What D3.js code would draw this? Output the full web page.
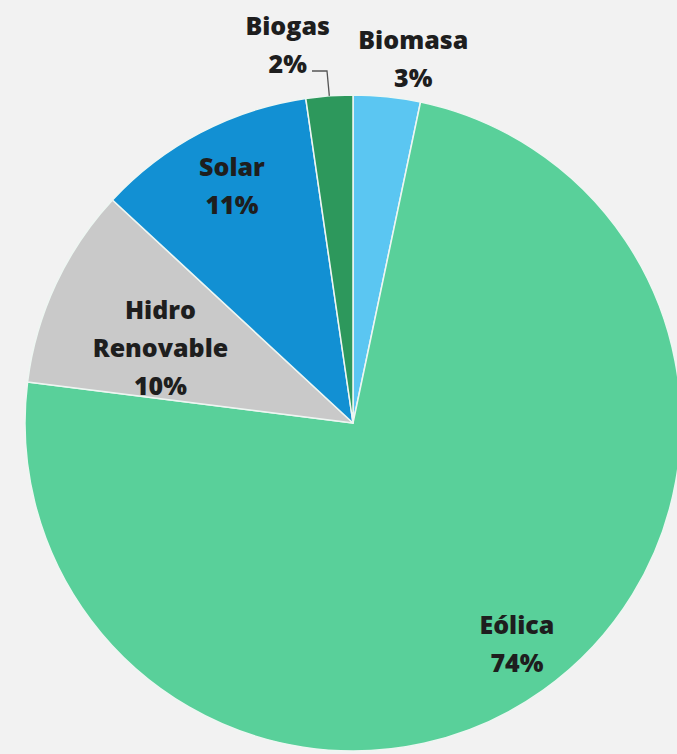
<!DOCTYPE html>
<html>
<head>
<meta charset="utf-8">
<script src="https://cdn.jsdelivr.net/npm/d3@7"></script>
<style>
	html, body { margin: 0; padding: 0; background: #f2f2f2; overflow: hidden; }
	svg { display: block; }
</style>
</head>
<body>
<script>
// shares of renewable generation (%), in pie order starting at 12 o'clock
const categories = ["Biomasa", "Eólica", "Hidro Renovable", "Solar", "Biogas"];
const shares = [3.3, 73.7, 9.9, 10.8, 2.3];
const shareLabels = ["3%", "74%", "10%", "11%", "2%"];

const colors = ["#5bc6f2", "#59d09a", "#c9c9c9", "#1290d3", "#2d985c"];

// label lines per slice (name split as in the chart)
const labelLines = [["Biomasa"], ["Eólica"], ["Hidro", "Renovable"], ["Solar"], ["Biogas"]];

// where each label sits: angle in degrees from 12 o'clock, radius as fraction of r
const labelPlace = [
	{angle: 9.4, f: 1.125},
	{angle: 143.5, f: 0.84},
	{angle: 291.3, f: 0.63},
	{angle: 332.9, f: 0.81},
	{angle: 350.2, f: 1.17}
];

let width = 677;
let height = 754;
let cx = 353, cy = 423, radius = 328;
let lineGap = 38;

let svg = d3.select("body").append("svg")
	.attr("width", width)
	.attr("height", height);

svg.append("rect")
	.attr("width", width)
	.attr("height", height)
	.attr("fill", "#f2f2f2");

let pie = d3.pie().sort(null).value(d => d);
let arcs = pie(shares);

let arc = d3.arc()
	.innerRadius(0)
	.outerRadius(radius);

let g = svg.append("g")
	.attr("transform", `translate(${cx},${cy})`);

g.selectAll("path")
	.data(arcs)
	.join("path")
	.attr("d", arc)
	.attr("fill", (d, i) => colors[i])
	.attr("stroke", "#eef6f2")
	.attr("stroke-width", 1.5)
	.attr("stroke-linejoin", "round");

// leader line for the Biogas label
let biogas = arcs[4];
let edgeAngle = (biogas.startAngle + biogas.endAngle) / 2;
let edge = [Math.sin(edgeAngle) * radius, -Math.cos(edgeAngle) * radius];
g.append("path")
	.attr("d", d3.line()([[-41, -352], [-26, -352], edge]))
	.attr("fill", "none")
	.attr("stroke", "#555")
	.attr("stroke-width", 1.3);

// labels
let labels = g.selectAll(".slice-label")
	.data(arcs)
	.join("text")
	.attr("class", "slice-label")
	.attr("text-anchor", "middle")
	.attr("font-family", "'Open Sans', sans-serif")
	.attr("font-weight", 800)
	.attr("font-size", 25)
	.attr("fill", "#1e1e1e")
	.attr("transform", (d, i) => {
		let a = labelPlace[i].angle * Math.PI / 180;
		let r = labelPlace[i].f * radius;
		return `translate(${Math.sin(a) * r},${-Math.cos(a) * r})`;
	});

labels.each(function(d, i) {
	let lines = labelLines[i].concat([shareLabels[i]]);
	let t = d3.select(this);
	lines.forEach((s, k) => {
		t.append("tspan")
			.attr("x", 0)
			.attr("y", (k - (lines.length - 1) / 2) * lineGap)
			.attr("dy", "0.35em")
			.text(s);
	});
});
</script>
</body>
</html>
